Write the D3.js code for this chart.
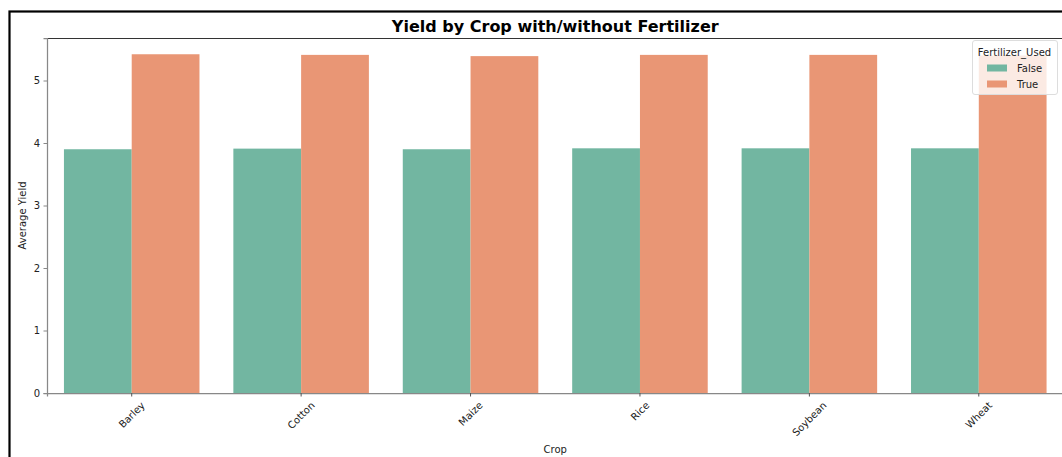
<!DOCTYPE html>
<html><head><meta charset="utf-8">
<script src="https://cdn.jsdelivr.net/npm/d3@7"></script>
<style>
html,body{margin:0;padding:0;background:#fff;}
svg{display:block;font-family:"DejaVu Sans",sans-serif;}
</style></head>
<body>
<svg id="chart" width="1062" height="457"></svg>
<script>
const crops = ["Barley","Cotton","Maize","Rice","Soybean","Wheat"];
const seriesNames = ["False","True"];
const valuesFalse = [3.90, 3.91, 3.90, 3.915, 3.915, 3.915];
const valuesTrue = [5.42, 5.41, 5.39, 5.41, 5.41, 5.40];
const yTicks = [0,1,2,3,4,5];
const colors = ["#72b6a1","#e99675"];
const title = "Yield by Crop with/without Fertilizer";
const xLabel = "Crop";
const yLabel = "Average Yield";
const legendTitle = "Fertilizer_Used";

const svg = d3.select("#chart");
const m = {left:47, top:38, right:1063.5, bottom:393};

// figure border
svg.append("rect").attr("x",9.5).attr("y",11.5).attr("width",1100).attr("height",500)
  .attr("fill","none").attr("stroke","#000").attr("stroke-width",2.2);

const x = d3.scaleBand().domain(crops).range([m.left, m.right]).paddingInner(0).paddingOuter(0);
const xInner = d3.scaleBand().domain(seriesNames).range([x.bandwidth()*0.1, x.bandwidth()*0.9]);
const yMax = 5.68;
const y = d3.scaleLinear().domain([0, yMax]).range([m.bottom, m.top]);

const data = [];
crops.forEach((c,i)=>{
  data.push({crop:c, s:"False", v:valuesFalse[i]});
  data.push({crop:c, s:"True", v:valuesTrue[i]});
});
const color = d3.scaleOrdinal().domain(seriesNames).range(colors);

svg.append("g").selectAll("rect").data(data).join("rect")
  .attr("x", d=>x(d.crop)+xInner(d.s))
  .attr("width", xInner.bandwidth())
  .attr("y", d=>y(d.v))
  .attr("height", d=>y(0)-y(d.v))
  .attr("fill", d=>color(d.s));

// top spine
svg.append("line").attr("x1",m.left).attr("x2",m.right).attr("y1",m.top+0.5).attr("y2",m.top+0.5)
  .attr("stroke","#333").attr("stroke-width",1);

// y axis
const yAxis = svg.append("g").attr("transform",`translate(${m.left},0)`)
  .call(d3.axisLeft(y).tickValues(yTicks).tickFormat(d3.format("d")).tickSize(3.5).tickPadding(3.5));
yAxis.select(".domain").attr("stroke","#888").attr("stroke-width",1.25);
yAxis.selectAll(".tick line").attr("stroke","#888");
yAxis.selectAll(".tick text").attr("font-size",10).attr("fill","#222").attr("font-family","DejaVu Sans");

// x axis
const xAxis = svg.append("g").attr("transform",`translate(0,${m.bottom})`)
  .call(d3.axisBottom(x).tickSize(3.5).tickPadding(3.5));
xAxis.select(".domain").attr("stroke","#888").attr("stroke-width",1.25);
xAxis.selectAll(".tick line").attr("stroke","#555");
xAxis.selectAll(".tick text").attr("font-size",10).attr("fill","#222").attr("font-family","DejaVu Sans")
  .each(function(){
    const t = d3.select(this);
    const w = this.getComputedTextLength();
    const fh = 10*1.0;
    const h = (w+fh)*Math.SQRT1_2;
    t.attr("y",null).attr("dy",null)
     .attr("text-anchor","middle").attr("dominant-baseline","central")
     .attr("transform",`translate(0,${7+h/2}) rotate(-45)`);
  });

// title
svg.append("text").attr("x",(m.left+m.right)/2).attr("y",32)
  .attr("text-anchor","middle").attr("font-weight","bold").attr("font-size",16).attr("fill","#000")
  .text(title);

// axis labels
svg.append("text").attr("x",(m.left+m.right)/2).attr("y",453)
  .attr("text-anchor","middle").attr("font-size",10).attr("fill","#222").text(xLabel);
svg.append("text").attr("transform",`translate(26,${(m.top+m.bottom)/2}) rotate(-90)`)
  .attr("text-anchor","middle").attr("font-size",10).attr("fill","#222").text(yLabel);

// legend
const lg = svg.append("g");
lg.append("rect").attr("x",972.5).attr("y",40.5).attr("width",85).attr("height",54).attr("rx",2.5)
  .attr("fill","#fff").attr("fill-opacity",0.8).attr("stroke","#ddd").attr("stroke-width",1);
lg.append("text").attr("x",1014.5).attr("y",56).attr("text-anchor","middle").attr("font-size",10).attr("fill","#222").text(legendTitle);
seriesNames.forEach((s,i)=>{
  lg.append("rect").attr("x",987).attr("y",64.5+i*16).attr("width",20).attr("height",7).attr("fill",color(s));
  lg.append("text").attr("x",1017).attr("y",72+i*16).attr("font-size",10).attr("fill","#222").text(s);
});
</script>
</body></html>
